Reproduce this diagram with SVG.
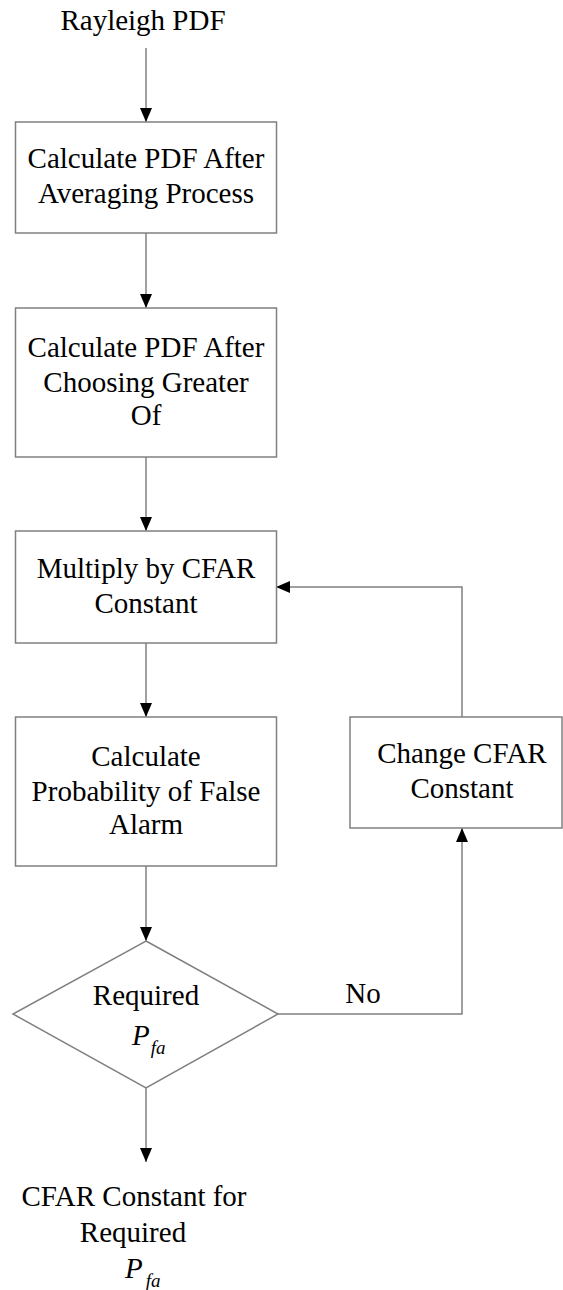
<svg xmlns="http://www.w3.org/2000/svg" width="563" height="1290" viewBox="0 0 563 1290">
  <style>
    .box { fill: #ffffff; stroke: #808080; stroke-width: 1.5; }
    .lbl { font-family: 'Liberation Serif', serif; font-size: 29px; fill: #000000; text-anchor: middle; }
    .sym { font-family: 'Liberation Serif', serif; font-style: italic; fill: #000000; }
    .wire { fill: none; stroke: #808080; stroke-width: 1.5; }
  </style>
  <defs>
    <marker id="arrow" viewBox="0 0 14 12" refX="14" refY="6" markerWidth="14" markerHeight="12" markerUnits="userSpaceOnUse" orient="auto">
      <path d="M0,0 L14,6 L0,12 Z" fill="#000000"/>
    </marker>
  </defs>
  <rect width="563" height="1290" fill="#ffffff"/>

  <!-- connectors -->
  <g id="connectors">
    <line class="wire" x1="146" y1="48" x2="146" y2="122" marker-end="url(#arrow)"/>
    <line class="wire" x1="146" y1="233" x2="146" y2="308" marker-end="url(#arrow)"/>
    <line class="wire" x1="146" y1="457" x2="146" y2="531" marker-end="url(#arrow)"/>
    <line class="wire" x1="146" y1="643" x2="146" y2="717" marker-end="url(#arrow)"/>
    <line class="wire" x1="146" y1="866" x2="146" y2="941" marker-end="url(#arrow)"/>
    <line class="wire" x1="146" y1="1088" x2="146" y2="1162" marker-end="url(#arrow)"/>
    <polyline class="wire" points="278,1014 462,1014 462,828" marker-end="url(#arrow)"/>
    <polyline class="wire" points="462,717 462,587 276,587" marker-end="url(#arrow)"/>
    <text class="lbl" x="363" y="1003">No</text>
  </g>

  <g id="start">
    <text class="lbl" x="143" y="30">Rayleigh PDF</text>
  </g>

  <g id="averaging">
    <rect class="box" x="15.5" y="122" width="261" height="111"/>
    <text class="lbl" x="146" y="168">Calculate PDF After</text>
    <text class="lbl" x="146" y="203">Averaging Process</text>
  </g>

  <g id="greater-of">
    <rect class="box" x="15.5" y="308" width="261" height="149"/>
    <text class="lbl" x="146" y="357">Calculate PDF After</text>
    <text class="lbl" x="146" y="392">Choosing Greater</text>
    <text class="lbl" x="146" y="425">Of</text>
  </g>

  <g id="multiply">
    <rect class="box" x="15.5" y="531" width="261" height="112"/>
    <text class="lbl" x="146" y="578">Multiply by CFAR</text>
    <text class="lbl" x="146" y="613">Constant</text>
  </g>

  <g id="pfa-calc">
    <rect class="box" x="15.5" y="717" width="261" height="149"/>
    <text class="lbl" x="146" y="766">Calculate</text>
    <text class="lbl" x="146" y="801">Probability of False</text>
    <text class="lbl" x="146" y="834">Alarm</text>
  </g>

  <g id="change-constant">
    <rect class="box" x="350" y="717" width="212" height="111"/>
    <text class="lbl" x="462" y="763">Change CFAR</text>
    <text class="lbl" x="462" y="798">Constant</text>
  </g>

  <g id="decision">
    <polygon class="box" points="146,941 278,1014 146,1088 13,1014"/>
    <text class="lbl" x="146" y="1005">Required</text>
    <text class="sym" x="132" y="1045" font-size="29">P<tspan font-size="19" dx="1" dy="9">fa</tspan></text>
  </g>

  <g id="result">
    <text class="lbl" x="134" y="1206">CFAR Constant for</text>
    <text class="lbl" x="133" y="1242">Required</text>
    <text class="sym" x="125" y="1278" font-size="29">P<tspan font-size="19" dx="3" dy="9">fa</tspan></text>
  </g>
</svg>
